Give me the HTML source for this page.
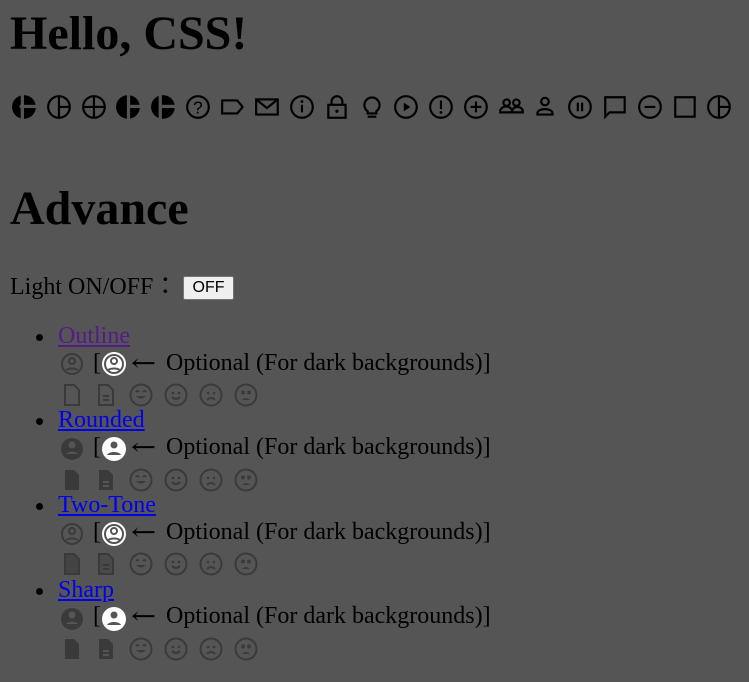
<!DOCTYPE html>
<html><head><meta charset="utf-8"><style>
body{margin:0;width:749px;height:682px;background:#555;font-family:"Liberation Serif",serif;color:#000;position:relative;overflow:hidden}
.a{position:absolute;white-space:nowrap}
h1{margin:0;font-size:48px;font-weight:bold}
h2{margin:0;font-size:48px;font-weight:bold}
.t{font-size:24px;font-family:"Liberation Serif",serif}
.ar{position:absolute;font-family:"DejaVu Serif","DejaVu Sans",serif;font-size:24px;transform:scaleX(1.25);transform-origin:left}
a{color:#00e;text-decoration:underline}
a.v{color:#551a8b}
.g{fill:none;stroke:#3a3a3a;stroke-width:2}
.gf{fill:#3a3a3a}
.k{fill:none;stroke:#000;stroke-width:2}
.btn{position:absolute;left:183px;top:276px;width:51px;height:24px;background:#efefef;border:1px solid #767676;border-radius:2px;font-family:"Liberation Sans",sans-serif;font-size:16px;text-align:center;line-height:22px;box-sizing:border-box}
.dot{position:absolute;width:7px;height:7px;border-radius:50%;background:#000}
</style></head><body>
<h1 class="a" style="left:10px;top:6px">Hello, CSS!</h1>
<svg width="749" height="50" style="position:absolute;left:0;top:88px">
<g transform="translate(11,6) scale(1.08)"><circle cx="12" cy="12" r="11" fill="#000"/><rect x="8" y="10" width="16" height="3" fill="#555"/><rect x="9" y="0" width="3" height="24" fill="#555"/></g>
<g transform="translate(46,6) scale(1.08)"><circle cx="12" cy="12" r="10" class="k"/><path d="M12 2v20M12 12h10" class="k"/></g>
<g transform="translate(81,6) scale(1.08)"><circle cx="12" cy="12" r="10" class="k"/><path d="M12 2v20M12 12h10M2 12h10" class="k"/></g>
<g transform="translate(115,6) scale(1.08)"><circle cx="12" cy="12" r="11" fill="#000"/><rect x="11" y="0" width="3" height="24" fill="#555"/><rect x="14" y="10" width="10" height="3" fill="#555"/></g>
<g transform="translate(150,6) scale(1.08)"><circle cx="12" cy="12" r="11" fill="#000"/><rect x="8" y="0" width="3" height="24" fill="#555"/><rect x="11" y="10" width="13" height="3" fill="#555"/></g>
<g transform="translate(185,6) scale(1.08)"><circle cx="12" cy="12" r="10" class="k"/><text x="12" y="18" font-size="16" text-anchor="middle" font-family="Liberation Sans">?</text></g>
<g transform="translate(220,6) scale(1.08)"><path d="M2 6h14l5 6-5 6H2z" class="k"/></g>
<g transform="translate(254,6) scale(1.08)"><rect x="2" y="5" width="20" height="14" class="k"/><path d="M2 5l10 8 10-8" class="k"/></g>
<g transform="translate(289,6) scale(1.08)"><circle cx="12" cy="12" r="10" class="k"/><path d="M12 10v7" class="k"/><circle cx="12" cy="7" r="1.3"/></g>
<g transform="translate(324,6) scale(1.08)"><rect x="4" y="10" width="16" height="12" class="k"/><path d="M7 10V7a5 5 0 0 1 10 0v3" class="k"/><circle cx="12" cy="16" r="1.5"/></g>
<g transform="translate(359,6) scale(1.08)"><path d="M8 16a7 7 0 1 1 8 0v2H8z" class="k"/><path d="M8 21h8" class="k"/></g>
<g transform="translate(393,6) scale(1.08)"><circle cx="12" cy="12" r="10" class="k"/><path d="M10 8l6 4-6 4z"/></g>
<g transform="translate(428,6) scale(1.08)"><circle cx="12" cy="12" r="10" class="k"/><path d="M12 6v8" class="k"/><circle cx="12" cy="17" r="1.3"/></g>
<g transform="translate(463,6) scale(1.08)"><circle cx="12" cy="12" r="10" class="k"/><path d="M12 7v10M7 12h10" class="k"/></g>
<g transform="translate(498,6) scale(1.08)"><circle cx="8" cy="8" r="3" class="k"/><circle cx="17" cy="8" r="3" class="k"/><path d="M2 17h11v-1a5 4 0 0 0-11 0zM13 17h10v-1a5 4 0 0 0-10 0z" class="k"/></g>
<g transform="translate(532,6) scale(1.08)"><circle cx="12" cy="7" r="3.5" class="k"/><path d="M5 19h14v-1c0-3-4-4-7-4s-7 1-7 4z" class="k"/></g>
<g transform="translate(567,6) scale(1.08)"><circle cx="12" cy="12" r="10" class="k"/><path d="M10 8v8M14 8v8" class="k"/></g>
<g transform="translate(602,6) scale(1.08)"><path d="M3 3h18v14H7l-4 4z" class="k"/></g>
<g transform="translate(637,6) scale(1.08)"><circle cx="12" cy="12" r="10" class="k"/><path d="M7 12h10" class="k"/></g>
<g transform="translate(672,6) scale(1.08)"><rect x="3" y="3" width="18" height="18" class="k"/></g>
<g transform="translate(706,6) scale(1.08)"><circle cx="12" cy="12" r="10" class="k"/><path d="M12 2v20M12 12h10" class="k"/></g>
</svg>
<h2 class="a" style="left:10px;top:181px">Advance</h2>
<div class="a t" style="left:10px;top:266px">Light ON/OFF<span style="font-family:'Noto Sans CJK JP',sans-serif">：</span></div>
<div class="btn">OFF</div>

<svg width="0" height="0" style="position:absolute"><defs>
<g id="po"><circle cx="12" cy="12" r="10" fill="none" stroke-width="2"/><circle cx="12" cy="9" r="3" fill="none" stroke-width="2"/><path d="M6.5 18c2-2 9-2 11 0" fill="none" stroke-width="2"/></g>
<g id="doc"><path d="M5 2h9l5 5v15H5z" class="g"/></g>
<g id="docf"><path d="M5 2h9l5 5v15H5z" class="gf"/></g>
<g id="face1"><circle cx="12" cy="12" r="10.5" class="g"/><path d="M7 13q5 5 10 0z" class="gf"/><path d="M7 9q1.5-2 3 0M14 9q1.5-2 3 0" class="g" stroke-width="1.5"/></g>
<g id="face2"><circle cx="12" cy="12" r="10.5" class="g"/><circle cx="9" cy="10" r="1.3" class="gf"/><circle cx="15" cy="10" r="1.3" class="gf"/><path d="M8 14q4 4 8 0" class="g" stroke-width="1.6"/></g>
<g id="face3"><circle cx="12" cy="12" r="10.5" class="g"/><circle cx="9" cy="10" r="1.3" class="gf"/><circle cx="15" cy="10" r="1.3" class="gf"/><path d="M8 17q4-4 8 0" class="g" stroke-width="1.6"/></g>
<g id="face4"><circle cx="12" cy="12" r="10.5" class="g"/><path d="M7.5 8l3 3M10.5 8l-3 3M13.5 8l3 3M16.5 8l-3 3" class="g" stroke-width="1.3"/><path d="M8 17q4-4 8 0z" class="gf"/></g>
</defs></svg>

<div class="dot" style="left:36px;top:334px"></div>
<div class="a t" style="left:58px;top:323px"><a class="v">Outline</a></div>
<div class="dot" style="left:36px;top:418px"></div>
<div class="a t" style="left:58px;top:407px"><a>Rounded</a></div>
<div class="dot" style="left:36px;top:503px"></div>
<div class="a t" style="left:58px;top:492px"><a>Two-Tone</a></div>
<div class="dot" style="left:36px;top:588px"></div>
<div class="a t" style="left:58px;top:577px"><a>Sharp</a></div>

<div class="a t" style="left:93px;top:350px">[</div><span class="ar" style="left:131px;top:349px">←</span><div class="a t" style="left:166px;top:350px">Optional (For dark backgrounds)]</div>
<div class="a t" style="left:93px;top:434px">[</div><span class="ar" style="left:131px;top:433px">←</span><div class="a t" style="left:166px;top:434px">Optional (For dark backgrounds)]</div>
<div class="a t" style="left:93px;top:519px">[</div><span class="ar" style="left:131px;top:518px">←</span><div class="a t" style="left:166px;top:519px">Optional (For dark backgrounds)]</div>
<div class="a t" style="left:93px;top:603px">[</div><span class="ar" style="left:131px;top:602px">←</span><div class="a t" style="left:166px;top:603px">Optional (For dark backgrounds)]</div>

<svg width="749" height="682" style="position:absolute;left:0;top:0">
<use href="#po" x="60" y="352" stroke="#3a3a3a"/>
<circle cx="114" cy="364" r="12" fill="#fff"/><circle cx="114" cy="364" r="9" fill="none" stroke="#555" stroke-width="2"/><circle cx="114" cy="361" r="3" fill="none" stroke="#555" stroke-width="2"/><path d="M108.5 370c2-2 9-2 11 0" fill="none" stroke="#555" stroke-width="2"/>
<use href="#doc" x="60" y="383"/>
<g transform="translate(94,383)"><use href="#doc"/><path d="M9 13h6M9 17h6" class="g"/></g>
<use href="#face1" x="129" y="383"/><use href="#face2" x="164" y="383"/><use href="#face3" x="199" y="383"/><use href="#face4" x="234" y="383"/>
<circle cx="72" cy="449" r="11" fill="#3a3a3a"/><circle cx="72" cy="445" r="3.5" fill="#555"/><path d="M66 454c2-3 10-3 12 0z" fill="#555"/>
<circle cx="114" cy="449" r="12" fill="#fff"/><circle cx="114" cy="445" r="3.5" fill="#555"/><path d="M107 455c2-4 12-4 14 0z" fill="#555"/>
<use href="#docf" x="60" y="468"/>
<g transform="translate(94,468)"><use href="#docf"/><path d="M9 14h6M9 18h6" stroke="#555" stroke-width="2"/></g>
<use href="#face1" x="129" y="468"/><use href="#face2" x="164" y="468"/><use href="#face3" x="199" y="468"/><use href="#face4" x="234" y="468"/>
<use href="#po" x="60" y="522" stroke="#3a3a3a"/>
<circle cx="114" cy="534" r="12" fill="#fff"/><circle cx="114" cy="534" r="9" fill="none" stroke="#555" stroke-width="2"/><circle cx="114" cy="531" r="3" fill="none" stroke="#555" stroke-width="2"/><path d="M108.5 540c2-2 9-2 11 0" fill="none" stroke="#555" stroke-width="2"/>
<g transform="translate(60,552)"><path d="M5 2h9l5 5v15H5z" fill="#444" stroke="#3a3a3a" stroke-width="2"/></g>
<g transform="translate(94,552)"><path d="M5 2h9l5 5v15H5z" fill="#4a4a4a" stroke="#3a3a3a" stroke-width="2"/><path d="M9 13h6M9 17h6" class="g"/></g>
<use href="#face1" x="129" y="552"/><use href="#face2" x="164" y="552"/><use href="#face3" x="199" y="552"/><use href="#face4" x="234" y="552"/>
<circle cx="72" cy="619" r="11" fill="#3a3a3a"/><circle cx="72" cy="615" r="3.5" fill="#555"/><path d="M66 624c2-3 10-3 12 0z" fill="#555"/>
<circle cx="114" cy="619" r="12" fill="#fff"/><circle cx="114" cy="615" r="3.5" fill="#555"/><path d="M107 625c2-4 12-4 14 0z" fill="#555"/>
<use href="#docf" x="60" y="637"/>
<g transform="translate(94,637)"><use href="#docf"/><path d="M9 14h6M9 18h6" stroke="#555" stroke-width="2"/></g>
<use href="#face1" x="129" y="637"/><use href="#face2" x="164" y="637"/><use href="#face3" x="199" y="637"/><use href="#face4" x="234" y="637"/>
</svg>
</body></html>
